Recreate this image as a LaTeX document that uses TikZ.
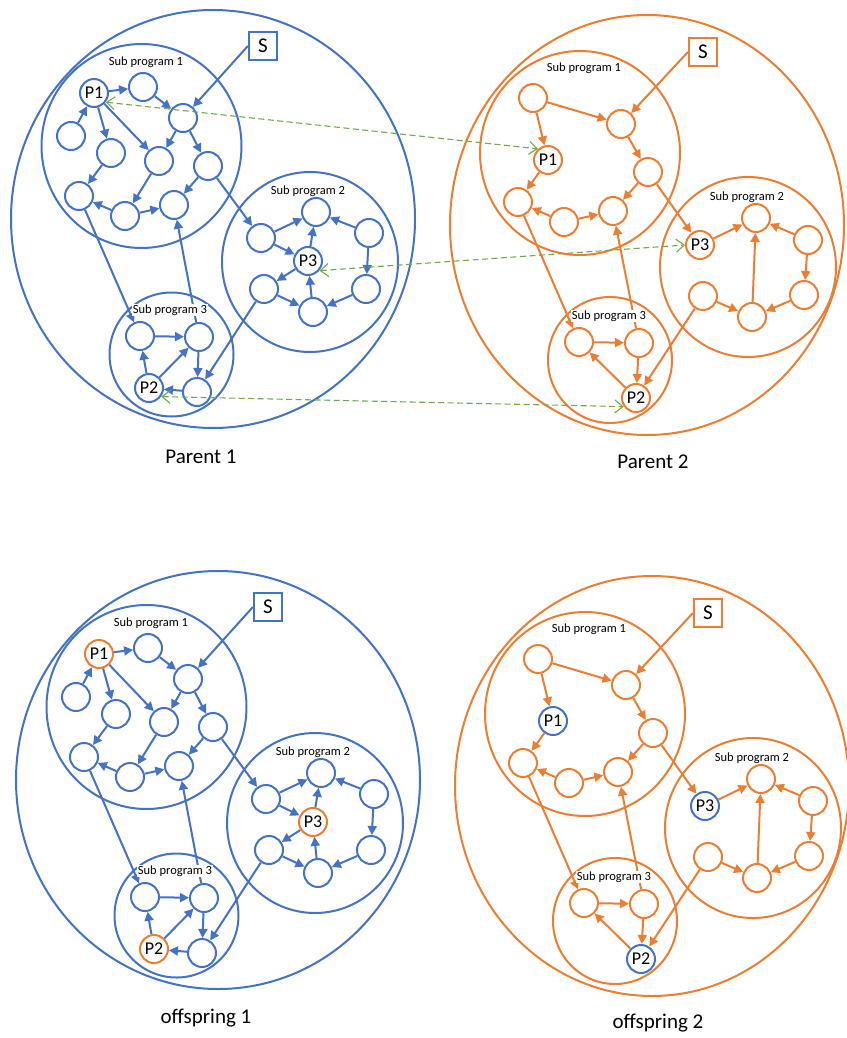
\documentclass[tikz,border=0pt]{standalone}
\usepackage{fontspec}
\setmainfont{Carlito}
\usetikzlibrary{arrows.meta,shapes.geometric}
\definecolor{oblue}{HTML}{4472C4}
\definecolor{oorange}{HTML}{ED7D31}
\definecolor{ogreen}{HTML}{70AD47}
\tikzset{
 nd/.style={circle,draw=#1,line width=2pt,minimum size=28pt,inner sep=0pt,fill=white,font=\fontsize{18}{18}\selectfont},
 arr/.style={draw=#1,line width=2pt,-{Triangle[length=9pt,width=9pt]}},
 subc/.style={ellipse,draw=#1,line width=2pt,inner sep=0pt},
 lbl/.style={font=\fontsize{12.5}{12.5}\selectfont,fill=white,inner sep=0.5pt},
 sbox/.style={rectangle,draw=#1,line width=2.2pt,minimum size=28pt,inner sep=0pt,fill=white,font=\fontsize{21}{21}\selectfont},
 ttl/.style={font=\fontsize{21}{21}\selectfont},
 gline/.style={draw=ogreen,line width=1.1pt,dash pattern=on 6pt off 3.5pt,{Straight Barb[length=8pt,width=13pt]}-{Straight Barb[length=8pt,width=13pt]}}
}
% #1 prefix, #2 main colour, #3 colour of P nodes, #4 shift, #5 title
\newcommand\parentA[5]{%
\begin{scope}[shift={(#4)}]
\node[subc=#2,minimum width=404pt,minimum height=418pt] (#1out) at (213,219) {};
\node[subc=#2,minimum width=200pt,minimum height=204pt] (#1s1) at (141.5,146) {};
\node[subc=#2,minimum width=176pt,minimum height=180pt] (#1s2) at (310,262) {};
\node[subc=#2,minimum width=124pt,minimum height=124pt] (#1s3) at (171.5,354.5) {};
\node[sbox=#2] (#1S) at (263,46) {S};
\node[nd=#3] (#1P1) at (94,93) {P1};
\node[nd=#2] (#1Na) at (143,87) {};
\node[nd=#2] (#1Nb) at (183,118) {};
\node[nd=#2] (#1Nc) at (71,136) {};
\node[nd=#2] (#1Nd) at (111,153) {};
\node[nd=#2] (#1Ne) at (159,161) {};
\node[nd=#2] (#1Nf) at (208,166) {};
\node[nd=#2] (#1Ng) at (79,196) {};
\node[nd=#2] (#1Nh) at (125,216) {};
\node[nd=#2] (#1Ni) at (174,205) {};
\node[nd=#2] (#1A) at (261,238) {};
\node[nd=#2] (#1B) at (316,212) {};
\node[nd=#3] (#1P3) at (308,261) {P3};
\node[nd=#2] (#1C) at (369,233) {};
\node[nd=#2] (#1D) at (264,289) {};
\node[nd=#2] (#1E) at (313,312) {};
\node[nd=#2] (#1F) at (366,289) {};
\node[nd=#2] (#1G) at (140,336) {};
\node[nd=#2] (#1H) at (199,337) {};
\node[nd=#3] (#1P2) at (149,388) {P2};
\node[nd=#2] (#1I) at (197,392) {};
\draw[arr=#2] (#1Nc) -- (#1P1);
\draw[arr=#2] (#1P1) -- (#1Na);
\draw[arr=#2] (#1Na) -- (#1Nb);
\draw[arr=#2] (#1S.west) -- (#1Nb);
\draw[arr=#2] (#1P1) -- (#1Nd);
\draw[arr=#2] (#1P1) -- (#1Ne);
\draw[arr=#2] (#1Nb) -- (#1Ne);
\draw[arr=#2] (#1Nb) -- (#1Nf);
\draw[arr=#2] (#1Nd) -- (#1Ng);
\draw[arr=#2] (#1Ne) -- (#1Nh);
\draw[arr=#2] (#1Nf) -- (#1Ni);
\draw[arr=#2] (#1Nh) -- (#1Ni);
\draw[arr=#2] (#1Nh) -- (#1Ng);
\draw[arr=#2] (#1Nf) -- (#1A);
\draw[arr=#2] (#1Ng) -- (#1G);
\draw[arr=#2] (#1H) -- (#1Ni);
\draw[arr=#2] (#1D) -- (#1I);
\draw[arr=#2] (#1A) -- (#1B);
\draw[arr=#2] (#1A) -- (#1P3);
\draw[arr=#2] (#1P3) -- (#1B);
\draw[arr=#2] (#1C) -- (#1B);
\draw[arr=#2] (#1C) -- (#1F);
\draw[arr=#2] (#1F) -- (#1E);
\draw[arr=#2] (#1E) -- (#1P3);
\draw[arr=#2] (#1P3) -- (#1D);
\draw[arr=#2] (#1D) -- (#1E);
\draw[arr=#2] (#1G) -- (#1H);
\draw[arr=#2] (#1P2) -- (#1G);
\draw[arr=#2] (#1P2) -- (#1H);
\draw[arr=#2] (#1H) -- (#1I);
\draw[arr=#2] (#1I) -- (#1P2);
\node[lbl] (#1l1) at (146,62) {Sub program 1};
\node[lbl] (#1l2) at (308,191) {Sub program 2};
\node[lbl] (#1l3) at (170,310) {Sub program 3};
\node[ttl] (#1t) at (201,457) {#5};
\end{scope}}
\newcommand\parentB[5]{%
\begin{scope}[shift={(#4)}]
\node[subc=#2,minimum width=394pt,minimum height=420pt] (#1out) at (647,225) {};
\node[subc=#2,minimum width=200pt,minimum height=204pt] (#1s1) at (580,153) {};
\node[subc=#2,minimum width=176pt,minimum height=180pt] (#1s2) at (748,267) {};
\node[subc=#2,minimum width=124pt,minimum height=126pt] (#1s3) at (610,360) {};
\node[sbox=#2] (#1S) at (703,52) {S};
\node[nd=#2] (#1a) at (533,98) {};
\node[nd=#2] (#1b) at (621,124) {};
\node[nd=#3] (#1P1) at (548,160) {P1};
\node[nd=#2] (#1c) at (648,172) {};
\node[nd=#2] (#1d) at (518,202) {};
\node[nd=#2] (#1e) at (564,222) {};
\node[nd=#2] (#1f) at (613,211) {};
\node[nd=#3] (#1P3) at (700,245) {P3};
\node[nd=#2] (#1B) at (756,218) {};
\node[nd=#2] (#1C) at (808,240) {};
\node[nd=#2] (#1F) at (804,295) {};
\node[nd=#2] (#1E) at (752,317) {};
\node[nd=#2] (#1D) at (703,296) {};
\node[nd=#2] (#1g) at (579,342) {};
\node[nd=#2] (#1h) at (639,343) {};
\node[nd=#3] (#1P2) at (636,398) {P2};
\draw[arr=#2] (#1a) -- (#1b);
\draw[arr=#2] (#1a) -- (#1P1);
\draw[arr=#2] (#1S.west) -- (#1b);
\draw[arr=#2] (#1b) -- (#1c);
\draw[arr=#2] (#1P1) -- (#1d);
\draw[arr=#2] (#1c) -- (#1f);
\draw[arr=#2] (#1e) -- (#1f);
\draw[arr=#2] (#1e) -- (#1d);
\draw[arr=#2] (#1c) -- (#1P3);
\draw[arr=#2] (#1d) -- (#1g);
\draw[arr=#2] (#1h) -- (#1f);
\draw[arr=#2] (#1P3) -- (#1B);
\draw[arr=#2] (#1C) -- (#1B);
\draw[arr=#2] (#1C) -- (#1F);
\draw[arr=#2] (#1F) -- (#1E);
\draw[arr=#2] (#1E) -- (#1B);
\draw[arr=#2] (#1D) -- (#1E);
\draw[arr=#2] (#1D) -- (#1P2);
\draw[arr=#2] (#1g) -- (#1h);
\draw[arr=#2] (#1h) -- (#1P2);
\draw[arr=#2] (#1P2) -- (#1g);
\node[lbl] (#1l1) at (584,68) {Sub program 1};
\node[lbl] (#1l2) at (747,197) {Sub program 2};
\node[lbl] (#1l3) at (609,316) {Sub program 3};
\node[ttl] (#1t) at (653,462) {#5};
\end{scope}}
\begin{document}
\begin{tikzpicture}[x=1pt,y=-1pt]
\useasboundingbox[fill=white] (0,0) rectangle (846,1038);
\parentA{a}{oblue}{oblue}{0,0}{Parent 1}
\parentB{b}{oorange}{oorange}{0,0}{Parent 2}
\parentA{c}{oblue}{oorange}{5,561}{offspring 1}
\parentB{d}{oorange}{oblue}{5,561}{offspring 2}
\draw[gline] (aP1.-38) -- (bP1.132);
\draw[gline] (aP3.-40) -- (bP3.180);
\draw[gline] (aP2.-35) -- (bP2.215);
\end{tikzpicture}
\end{document}
